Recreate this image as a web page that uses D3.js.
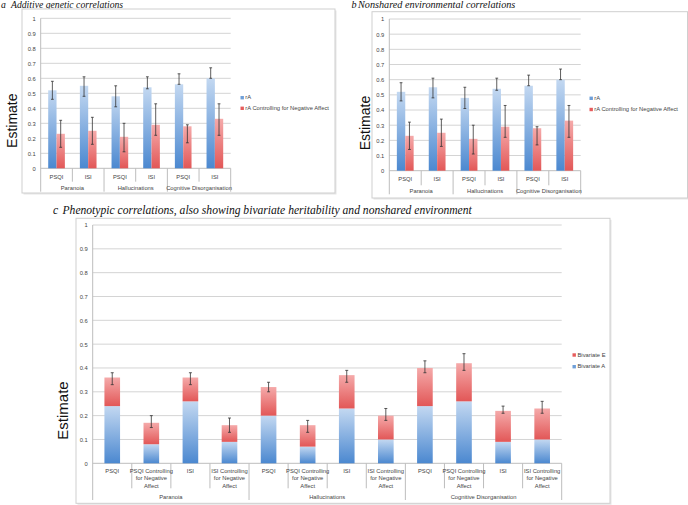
<!DOCTYPE html>
<html><head><meta charset="utf-8">
<script src="https://cdn.jsdelivr.net/npm/d3@7"></script>
<style>body{margin:0;background:#fff}svg{display:block}</style>
</head><body>
<script>
// ---------- DATA ----------
const yTicks = [0,0.1,0.2,0.3,0.4,0.5,0.6,0.7,0.8,0.9,1];
const yTickLabels = ["0","0.1","0.2","0.3","0.4","0.5","0.6","0.7","0.8","0.9","1"];
const abCategories = ["PSQI","ISI","PSQI","ISI","PSQI","ISI"];
const groups = ["Paranoia","Hallucinations","Cognitive Disorganisation"];
// panel a
const aSeriesNames = ["rA","rA Controlling for Negative Affect"];
const aRA      = [0.52,0.55,0.48,0.54,0.56,0.60];
const aRAHigh  = [0.58,0.61,0.55,0.61,0.63,0.67];
const aRALow   = [0.46,0.48,0.41,0.53,0.56,0.60];
const aCtrl    = [0.23,0.25,0.21,0.29,0.28,0.33];
const aCtrlHigh= [0.32,0.34,0.30,0.43,0.29,0.43];
const aCtrlLow = [0.14,0.16,0.11,0.22,0.17,0.22];
// panel b
const bSeriesNames = ["rA","rA Controlling for Negative Affect"];
const bRE      = [0.52,0.55,0.48,0.54,0.56,0.60];
const bREHigh  = [0.58,0.61,0.55,0.61,0.63,0.67];
const bRELow   = [0.46,0.48,0.41,0.53,0.56,0.60];
const bCtrl    = [0.23,0.25,0.21,0.29,0.28,0.33];
const bCtrlHigh= [0.32,0.34,0.30,0.43,0.29,0.43];
const bCtrlLow = [0.14,0.16,0.11,0.22,0.17,0.22];
// panel c
const cCategories = [
 ["PSQI"],["PSQI Controlling","for Negative","Affect"],["ISI"],["ISI Controlling","for Negative","Affect"],
 ["PSQI"],["PSQI Controlling","for Negative","Affect"],["ISI"],["ISI Controlling","for Negative","Affect"],
 ["PSQI"],["PSQI Controlling","for Negative","Affect"],["ISI"],["ISI Controlling","for Negative","Affect"]];
const cSeriesNames = ["Bivariate E","Bivariate A"];
const cBivA = [0.24,0.08,0.26,0.09, 0.20,0.07,0.23,0.10, 0.24,0.26,0.09,0.10];
const cBivE = [0.12,0.09,0.10,0.07, 0.12,0.09,0.14,0.10, 0.16,0.16,0.13,0.13];
const cHigh = [0.38,0.20,0.38,0.19, 0.34,0.18,0.39,0.23, 0.43,0.46,0.24,0.26];
const cLow  = [0.33,0.15,0.33,0.13, 0.30,0.13,0.34,0.18, 0.38,0.39,0.21,0.21];

// ---------- DRAW ----------
const svg = d3.select("body").append("svg").attr("width",688).attr("height",505);
const defs = svg.append("defs");
function grad(id, top, bot){
  const g = defs.append("linearGradient").attr("id",id).attr("x1",0).attr("y1",0).attr("x2",0).attr("y2",1);
  g.append("stop").attr("offset","0%").attr("stop-color",top);
  g.append("stop").attr("offset","100%").attr("stop-color",bot);
}
grad("gBlue","#c3d8f1","#4b88d0");
grad("gRed","#f5aaaa","#e25757");
const SANS = "'Liberation Sans', Arial, sans-serif";
const SERIF = "'Liberation Serif', 'Times New Roman', serif";
const TXT = "#444";

function title(letter, text, x, y, dx, size){
  svg.append("text").attr("x",x).attr("y",y).attr("font-family",SERIF).attr("font-style","italic")
    .attr("font-size",size).attr("fill","#111").text(letter);
  svg.append("text").attr("x",x+dx).attr("y",y).attr("font-family",SERIF).attr("font-style","italic")
    .attr("font-size",size).attr("fill","#111").text(text);
}

function frame(box, plot, y, fontSz){
  const g = svg.append("g");
  g.append("rect").attr("x",box[0]+1.5).attr("y",box[1]+1.5).attr("width",box[2]-box[0]).attr("height",box[3]-box[1])
    .attr("fill","#e6e6e6");
  g.append("rect").attr("x",box[0]).attr("y",box[1]).attr("width",box[2]-box[0]).attr("height",box[3]-box[1])
    .attr("fill","#fff").attr("stroke","#cfcfcf").attr("stroke-width",1);
  g.selectAll("line.grid").data(yTicks).join("line")
    .attr("x1",plot[0]).attr("x2",plot[1]).attr("y1",d=>y(d)).attr("y2",d=>y(d))
    .attr("stroke",(d)=>d===0?"#bdbdbd":"#d4d4d4").attr("stroke-width",1);
  const ax = d3.axisLeft(y).tickValues(yTicks).tickFormat((d,i)=>yTickLabels[i]).tickSize(0).tickPadding(5);
  const axg = g.append("g").attr("transform",`translate(${plot[0]},0)`).call(ax);
  axg.select(".domain").remove();
  axg.selectAll("text").attr("font-family",SANS).attr("font-size",fontSz).attr("fill",TXT);
  return g;
}

function estimate(x, yc, size){
  svg.append("text").attr("transform",`translate(${x},${yc}) rotate(-90)`).attr("text-anchor","middle")
    .attr("dominant-baseline","middle").attr("font-family",SANS).attr("font-size",size).attr("fill","#111").text("Estimate");
}

function errBars(g, xs, hi, lo, y, cap){
  const d = xs.map((x,i)=>({x,h:hi[i],l:lo[i]}));
  g.selectAll(null).data(d).join("line").attr("x1",d=>d.x).attr("x2",d=>d.x).attr("y1",d=>y(d.h)).attr("y2",d=>y(d.l))
    .attr("stroke","#333").attr("stroke-width",0.8);
  g.selectAll(null).data(d).join("line").attr("x1",d=>d.x-cap).attr("x2",d=>d.x+cap).attr("y1",d=>y(d.h)).attr("y2",d=>y(d.h))
    .attr("stroke","#333").attr("stroke-width",0.8);
  g.selectAll(null).data(d).join("line").attr("x1",d=>d.x-cap).attr("x2",d=>d.x+cap).attr("y1",d=>y(d.l)).attr("y2",d=>y(d.l))
    .attr("stroke","#333").attr("stroke-width",0.8);
}

function groupedPanel(o){
  const y = d3.scaleLinear().domain([0,1]).range([o.y0,o.y1]);
  const g = frame(o.box, o.plot, y, 5.8);
  const idx = d3.range(abCategories.length);
  const x = d3.scaleBand().domain(idx).range(o.plot).paddingInner(0).paddingOuter(0);
  const bw = x.bandwidth()*0.263;
  const sub = d3.scaleBand().domain([0,1]).range([0,2*bw]);
  const off = (x.bandwidth()-2*bw)/2;
  const series = [o.s1, o.s2];
  const fills = ["url(#gBlue)","url(#gRed)"];
  series.forEach((vals,si)=>{
    g.selectAll(null).data(vals).join("rect")
      .attr("x",(d,i)=>x(i)+off+sub(si)).attr("width",bw)
      .attr("y",d=>y(d)).attr("height",d=>y(0)-y(d)).attr("fill",fills[si]);
  });
  errBars(g, idx.map(i=>x(i)+off+sub(0)+bw/2), o.h1, o.l1, y, 1.4);
  errBars(g, idx.map(i=>x(i)+off+sub(1)+bw/2), o.h2, o.l2, y, 1.4);
  const bounds = d3.range(abCategories.length+1).map(i=> i<abCategories.length ? x(i) : o.plot[1]);
  g.selectAll(null).data(bounds).join("line")
    .attr("x1",d=>d).attr("x2",d=>d).attr("y1",(d,i)=>i===0?o.y1:y(0))
    .attr("y2",(d,i)=>i%2===0?o.gLineEnd:o.cLineEnd).attr("stroke","#bdbdbd").attr("stroke-width",1);
  g.selectAll(null).data(abCategories).join("text")
    .attr("x",(d,i)=>x(i)+x.bandwidth()/2).attr("y",o.catY).attr("text-anchor","middle")
    .attr("font-family",SANS).attr("font-size",5.8).attr("fill",TXT).text(d=>d);
  g.selectAll(null).data(groups).join("text")
    .attr("x",(d,i)=>(x(2*i)+ (2*i+2<abCategories.length? x(2*i+2):o.plot[1]))/2).attr("y",o.grpY).attr("text-anchor","middle")
    .attr("font-family",SANS).attr("font-size",5.8).attr("fill",TXT).text(d=>d);
  o.names.forEach((n,i)=>{
    g.append("rect").attr("x",o.leg[0]).attr("y",o.leg[1]+i*o.leg[2]-1.7).attr("width",3.4).attr("height",3.4)
      .attr("fill",i===0?"#6f9fd8":"#e65c5c");
    g.append("text").attr("x",o.leg[0]+4.8).attr("y",o.leg[1]+i*o.leg[2]).attr("dominant-baseline","middle")
      .attr("font-family",SANS).attr("font-size",5.8).attr("fill",TXT).text(n);
  });
}

title("a","Additive genetic correlations",1,8,10,9.7);
groupedPanel({box:[22,9,335,193], plot:[40.7,230.7], y0:168.3, y1:18.3, catY:178.8, grpY:190.3,
  cLineEnd:181.7, gLineEnd:191.7, s1:aRA, h1:aRAHigh, l1:aRALow, s2:aCtrl, h2:aCtrlHigh, l2:aCtrlLow,
  names:aSeriesNames, leg:[240.5,97.7,10.6]});
estimate(13,120.7,14);

title("b","Nonshared environmental correlations",351.5,8,6.5,10.2);
groupedPanel({box:[372,11.7,687.5,198], plot:[389.3,580.7], y0:170.7, y1:19, catY:180.5, grpY:193,
  cLineEnd:185.3, gLineEnd:194.3, s1:bRE, h1:bREHigh, l1:bRELow, s2:bCtrl, h2:bCtrlHigh, l2:bCtrlLow,
  names:bSeriesNames, leg:[589.5,98.3,11.2]});
estimate(366.5,123,14);

title("c","Phenotypic correlations, also showing bivariate heritability and nonshared environment",53,214,9.5,11.6);
(function(){
  const plot=[92.7,561.7], y0=463.3, y1=225;
  const y = d3.scaleLinear().domain([0,1]).range([y0,y1]);
  const g = frame([76,218.3,610,503.3], plot, y, 5.8);
  const idx = d3.range(cCategories.length);
  const x = d3.scaleBand().domain(idx).range(plot).paddingInner(0.6).paddingOuter(0.3);
  const band = (plot[1]-plot[0])/cCategories.length;
  g.selectAll(null).data(cBivA).join("rect")
    .attr("x",(d,i)=>x(i)).attr("width",x.bandwidth()).attr("y",d=>y(d)).attr("height",d=>y(0)-y(d)).attr("fill","url(#gBlue)");
  g.selectAll(null).data(cBivE).join("rect")
    .attr("x",(d,i)=>x(i)).attr("width",x.bandwidth()).attr("y",(d,i)=>y(d+cBivA[i])).attr("height",d=>y(0)-y(d)).attr("fill","url(#gRed)");
  errBars(g, idx.map(i=>x(i)+x.bandwidth()/2), cHigh, cLow, y, 1.5);
  const bounds = d3.range(cCategories.length+1).map(i=>plot[0]+i*band);
  g.selectAll(null).data(bounds).join("line")
    .attr("x1",d=>d).attr("x2",d=>d).attr("y1",(d,i)=>i===0?y1:y0)
    .attr("y2",(d,i)=>i%4===0?500:488.3).attr("stroke","#bdbdbd").attr("stroke-width",1);
  idx.forEach(i=>{
    g.append("text").attr("x",x(i)+x.bandwidth()/2).attr("y",473).attr("text-anchor","middle")
      .attr("font-family",SANS).attr("font-size",5.8).attr("fill",TXT)
      .selectAll("tspan").data(cCategories[i]).join("tspan")
      .attr("x",x(i)+x.bandwidth()/2).attr("dy",(d,j)=>j===0?0:7.3).text(d=>d);
  });
  g.selectAll(null).data(groups).join("text")
    .attr("x",(d,i)=>plot[0]+(4*i+2)*band).attr("y",498.5).attr("text-anchor","middle")
    .attr("font-family",SANS).attr("font-size",5.8).attr("fill",TXT).text(d=>d);
  cSeriesNames.forEach((n,i)=>{
    g.append("rect").attr("x",572.5).attr("y",355+i*11.7-1.7).attr("width",3.4).attr("height",3.4)
      .attr("fill",i===0?"#e65c5c":"#6f9fd8");
    g.append("text").attr("x",577.5).attr("y",355+i*11.7).attr("dominant-baseline","middle")
      .attr("font-family",SANS).attr("font-size",5.8).attr("fill",TXT).text(n);
  });
})();
estimate(64,410.5,15);
</script>
</body></html>
